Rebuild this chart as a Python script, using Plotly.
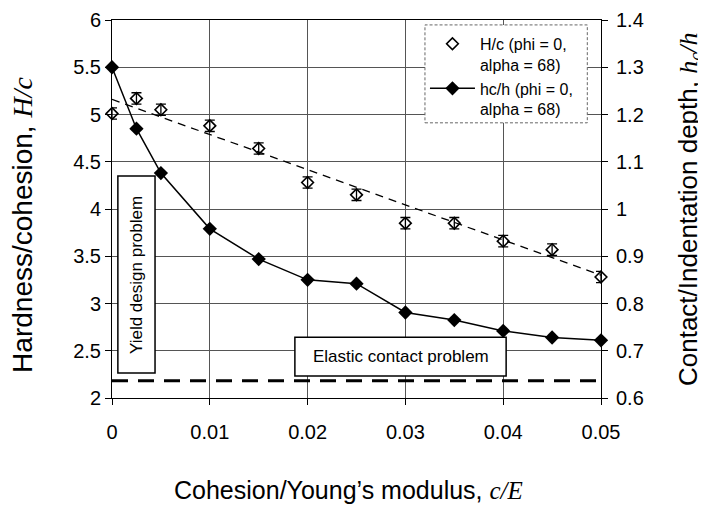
import plotly.graph_objects as go

# ---- data ----
cE = [0, 0.0025, 0.005, 0.01, 0.015, 0.02, 0.025, 0.03, 0.035, 0.04, 0.045, 0.05]
H_over_c = [5.01, 5.17, 5.05, 4.88, 4.64, 4.28, 4.15, 3.85, 3.85, 3.66, 3.57, 3.28]
H_err = [0.06, 0.06, 0.06, 0.06, 0.06, 0.06, 0.06, 0.06, 0.06, 0.06, 0.06, 0.06]
hc_over_h = [1.30, 1.17, 1.076, 0.958, 0.894, 0.85, 0.842, 0.781, 0.765, 0.742, 0.728, 0.722]
trend_x = [0, 0.05]
trend_y = [5.16, 3.30]
elastic_x = [0, 0.05]
elastic_hc = [0.6366, 0.6366]
x_ticks = [0, 0.01, 0.02, 0.03, 0.04, 0.05]
x_ticklabels = ["0", "0.01", "0.02", "0.03", "0.04", "0.05"]
y_ticks = [2, 2.5, 3, 3.5, 4, 4.5, 5, 5.5, 6]
y_ticklabels = ["2", "2.5", "3", "3.5", "4", "4.5", "5", "5.5", "6"]
y2_ticks = [0.6, 0.7, 0.8, 0.9, 1.0, 1.1, 1.2, 1.3, 1.4]
y2_ticklabels = ["0.6", "0.7", "0.8", "0.9", "1", "1.1", "1.2", "1.3", "1.4"]

FONT = "Liberation Sans, Arial, sans-serif"
SERIF = "Liberation Serif"

fig = go.Figure()

fig.add_trace(go.Scatter(x=trend_x, y=trend_y, mode="lines",
                         line=dict(color="black", width=1.3, dash="8px,6px"),
                         showlegend=False, hoverinfo="skip"))
fig.add_trace(go.Scatter(x=cE, y=H_over_c, mode="markers",
                         name="H/c (phi = 0,<br>alpha = 68)",
                         marker=dict(symbol="diamond-open", size=9, color="black",
                                     line=dict(width=1.6)),
                         error_y=dict(type="data", array=H_err, color="black",
                                      thickness=1.3, width=5),
                         cliponaxis=False))
fig.add_trace(go.Scatter(x=cE, y=hc_over_h, mode="lines+markers", yaxis="y2",
                         name="hc/h (phi = 0,<br>alpha = 68)",
                         line=dict(color="black", width=1.5),
                         marker=dict(symbol="diamond", size=11, color="black"),
                         cliponaxis=False))
fig.add_trace(go.Scatter(x=elastic_x, y=elastic_hc, mode="lines", yaxis="y2",
                         line=dict(color="black", width=3, dash="16px,10px"),
                         showlegend=False, hoverinfo="skip", cliponaxis=False))

fig.update_layout(
    width=698, height=499,
    margin=dict(l=104, r=105, t=12, b=109, autoexpand=False),
    paper_bgcolor="white", plot_bgcolor="white",
    font=dict(family=FONT, color="black", size=20),
    showlegend=True,
    legend=dict(x=0.64, y=0.982, xanchor="left", yanchor="top",
                bgcolor="rgba(0,0,0,0)", borderwidth=0,
                font=dict(size=16, family=FONT), tracegroupgap=4,
                valign="top", itemwidth=45),
    xaxis=dict(range=[0, 0.05], tickvals=x_ticks, ticktext=x_ticklabels,
               showgrid=True, gridcolor="#555", gridwidth=1, zeroline=False,
               showline=True, linecolor="black", mirror=True,
               ticks="outside", ticklen=6, tickcolor="black",
               ticklabelstandoff=10, ticklabeloverflow="allow",
               automargin=False, tickfont=dict(size=20)),
    yaxis=dict(range=[2, 6], tickvals=y_ticks, ticktext=y_ticklabels,
               showgrid=True, gridcolor="#555",
               gridwidth=1, zeroline=False, showline=True, linecolor="black",
               ticks="outside", ticklen=6, tickcolor="black",
               ticklabeloverflow="allow", automargin=False,
               tickfont=dict(size=20)),
    yaxis2=dict(range=[0.6, 1.4], tickvals=y2_ticks, ticktext=y2_ticklabels,
                overlaying="y", side="right",
                showgrid=False, zeroline=False, showline=True, linecolor="black",
                ticks="outside", ticklen=6, tickcolor="black",
                ticklabelstandoff=4, ticklabeloverflow="allow",
                automargin=False, tickfont=dict(size=20)),
    shapes=[
        # legend frame (dashed, like the reference)
        dict(type="rect", xref="paper", yref="paper", x0=0.64, x1=0.972,
             y0=0.728, y1=0.987, line=dict(color="#666", width=1, dash="3px,2px"),
             fillcolor="white", layer="above"),
        dict(type="rect", xref="paper", yref="paper", x0=0.012, x1=0.088,
             y0=0.066, y1=0.587, line=dict(color="black", width=1.5),
             fillcolor="white", layer="above"),
        dict(type="rect", xref="paper", yref="paper", x0=0.374, x1=0.806,
             y0=0.058, y1=0.161, line=dict(color="black", width=1.5),
             fillcolor="white", layer="above"),
    ],
    annotations=[
        dict(text="Yield design problem", xref="paper", yref="paper",
             x=0.05, y=0.3265, xanchor="center", yanchor="middle",
             textangle=-90, showarrow=False,
             font=dict(size=17, family=FONT)),
        dict(text="Elastic contact problem", xref="paper", yref="paper",
             x=0.59, y=0.11, xanchor="center", yanchor="middle",
             showarrow=False, font=dict(size=17, family=FONT)),
        dict(text="Hardness/cohesion, <i><span style='font-family:" + SERIF + "'>H/c</span></i>",
             xref="paper", yref="paper", x=-0.182, y=0.458, xanchor="center",
             yanchor="middle", textangle=-90,
             showarrow=False, font=dict(size=28, family=FONT)),
        dict(text="Contact/Indentation depth, <i><span style='font-family:" + SERIF + "'>h<sub>c</sub>/h</span></i>",
             xref="paper", yref="paper", x=1.18, y=0.5, xanchor="center",
             yanchor="middle", textangle=-90,
             showarrow=False, font=dict(size=26, family=FONT)),
        dict(text="Cohesion/Young\u2019s modulus, <i><span style='font-family:" + SERIF + "'>c/E</span></i>",
             xref="paper", yref="paper", x=0.483, y=-0.243, xanchor="center",
             yanchor="middle", showarrow=False, font=dict(size=25, family=FONT)),
    ],
)

fig.write_html("out.html")
